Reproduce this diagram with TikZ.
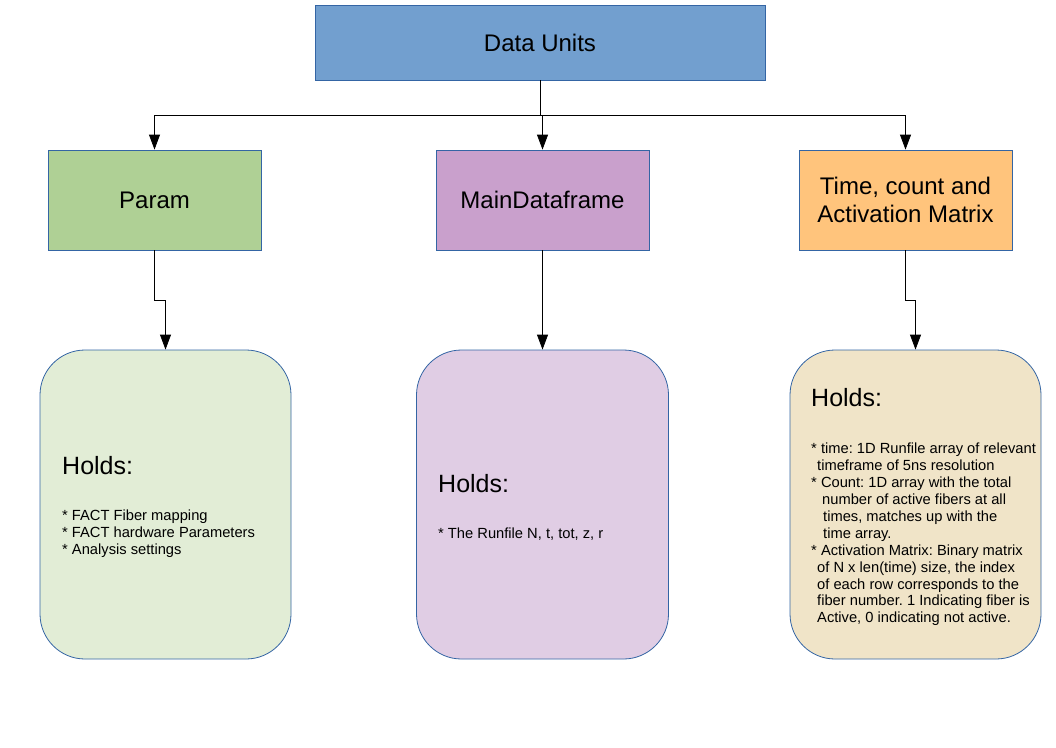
\documentclass[tikz,border=0pt]{standalone}
\usepackage{fontspec}
\setmainfont{Liberation Sans}
\usetikzlibrary{arrows.meta}
\frenchspacing
\definecolor{duBlue}{HTML}{729FCF}
\definecolor{edgeBlue}{HTML}{3465A4}
\definecolor{paramGreen}{HTML}{AFD095}
\definecolor{mainPurple}{HTML}{C9A0CC}
\definecolor{timeOrange}{HTML}{FFC47C}
\definecolor{lightGreen}{HTML}{E2EDD6}
\definecolor{lightPurple}{HTML}{E0CDE4}
\definecolor{lightOrange}{HTML}{F0E4C8}
\tikzset{
  topbox/.style={draw=edgeBlue, line width=0.8pt, rectangle, inner sep=0pt, font=\fontsize{24}{28}\selectfont, align=center},
  holdbox/.style={draw=edgeBlue, line width=0.8pt, rectangle, rounded corners=45pt, inner sep=0pt},
  arr/.style={-{Triangle[length=15pt,width=11pt]}, line width=0.8pt, black},
  conn/.style={line width=0.8pt, black},
  bigtxt/.style={font=\fontsize{25}{30}\selectfont, inner sep=0pt},
  smalltxt/.style={font=\fontsize{14.7}{16.9}\selectfont\frenchspacing, inner sep=0pt, align=left}
}
\begin{document}
\begin{tikzpicture}[x=1pt,y=-1pt]
\useasboundingbox (0,0) rectangle (1056,747);
% top boxes
\node[topbox, fill=duBlue, minimum width=450pt, minimum height=75pt] (du) at (540,42.5) {Data Units};
\node[topbox, fill=paramGreen, minimum width=213pt, minimum height=100pt] (param) at (154.5,200) {Param};
\node[topbox, fill=mainPurple, minimum width=213pt, minimum height=100pt] (main) at (542.5,200) {MainDataframe};
\node[topbox, fill=timeOrange, minimum width=213pt, minimum height=100pt] (time) at (905.5,200) {Time, count and\\Activation Matrix};
% holds boxes
\node[holdbox, fill=lightGreen, minimum width=251pt, minimum height=309pt] (hl) at (165.5,504.5) {};
\node[holdbox, fill=lightPurple, minimum width=252pt, minimum height=309pt] (hm) at (542.5,504.5) {};
\node[holdbox, fill=lightOrange, minimum width=251pt, minimum height=309pt] (hr) at (915.5,504.5) {};
% connectors
\coordinate (j) at (540,115);
\draw[conn] (du.south) -- (j);
\draw[arr] (j) -| (param.north);
\draw[arr] (j) -| (time.north);
\draw[arr] (main.north |- j) -- (main.north);
\draw[arr] (param.south) -- ++(0,50) -| (hl.north);
\draw[arr] (main.south) -- (hm.north);
\draw[arr] (time.south) -- ++(0,50) -| (hr.north);
% texts
\node[bigtxt, anchor=base west] (hlh) at (62,474) {Holds:};
\node[smalltxt, anchor=north west] (hlt) at (62,510) {* FACT Fiber mapping\\* FACT hardware Parameters\\* Analysis settings};
\node[bigtxt, anchor=base west] (hmh) at (438,492) {Holds:};
\node[smalltxt, anchor=base west] (hmt) at (438,538) {* The Runfile N, t, tot, z, r};
\node[bigtxt, anchor=base west] (hrh) at (811,406) {Holds:};
\node[smalltxt, anchor=north west] (hrt) at (811,443) {* time: 1D Runfile array of relevant\\
\hspace*{6pt}timeframe of 5ns resolution\\
* Count: 1D array with the total\\
\hspace*{11pt}number of active fibers at all\\
\hspace*{12pt}times, matches up with the\\
\hspace*{12pt}time array.\\
* Activation Matrix: Binary matrix\\
\hspace*{6pt}of N x len(time) size, the index\\
\hspace*{6pt}of each row corresponds to the\\
\hspace*{6pt}fiber number. 1 Indicating fiber is\\
\hspace*{6pt}Active, 0 indicating not active.};
\end{tikzpicture}
\end{document}
